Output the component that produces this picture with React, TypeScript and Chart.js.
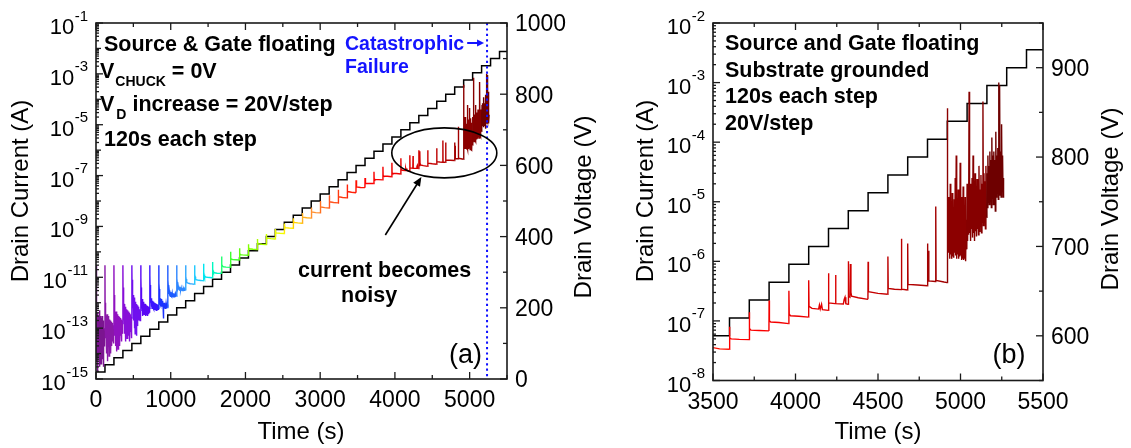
import React, { useEffect, useRef } from 'react';
import { Chart, registerables } from 'chart.js';

Chart.register(...registerables);

// ---------------- DATA ----------------
const STEP_SECONDS = 120;

// Drain voltage staircase: time (s) where each level starts, level (V)
const voltageTime = [0, 120, 240, 360, 480, 600, 720, 840, 960, 1080, 1200, 1320, 1440, 1560, 1680, 1800, 1920, 2040, 2160, 2280, 2400, 2520, 2640, 2760, 2880, 3000, 3120, 3240, 3360, 3480, 3600, 3720, 3840, 3960, 4080, 4200, 4320, 4440, 4560, 4680, 4800, 4920, 5040, 5160, 5280, 5400, 5500];
const voltageLevel = [20, 40, 60, 80, 100, 120, 140, 160, 180, 200, 220, 240, 260, 280, 300, 320, 340, 360, 380, 400, 420, 440, 460, 480, 500, 520, 540, 560, 580, 600, 620, 640, 660, 680, 700, 720, 740, 760, 780, 800, 820, 840, 860, 880, 900, 920, 920];

// Drain current, [time (s), current (A)]
// steps 0-4: noisy leakage at the floor
const earlyNoise: [number, number][] = [
  [0, 3e-11], [1, 2e-12], [4, 4e-13], [7, 2e-14], [10, 3e-13], [13, 5e-15], [16, 1.5e-13], [19, 3e-14], [22, 4e-13], [25, 2e-15], [28, 2e-13], [31, 6e-14], [34, 3e-13], [37, 1e-14], [40, 1.2e-13], [43, 4e-14], [46, 5e-13], [49, 3e-15], [52, 2e-13], [55, 8e-14], [58, 3e-13], [61, 1.5e-14], [64, 1e-13], [67, 4e-15], [70, 2.5e-13], [73, 5e-14], [76, 1.8e-13], [79, 2e-14], [82, 3e-13], [85, 6e-15], [88, 1.2e-13], [91, 3e-14], [94, 2e-13], [97, 1e-14], [100, 1.5e-13], [103, 3e-15], [106, 8e-14], [109, 2e-14], [112, 1e-13], [115, 5e-14], [118, 8e-14],
  [120, 3e-11], [122, 1e-12], [125, 3e-13], [128, 4e-14], [131, 4e-13], [134, 8e-14], [137, 3e-13], [140, 1e-14], [143, 2.5e-13], [146, 6e-14], [149, 3.5e-13], [152, 5e-15], [155, 2e-13], [158, 9e-14], [161, 3e-13], [164, 2e-14], [167, 1.8e-13], [170, 7e-14], [173, 2.5e-13], [176, 8e-15], [179, 1.5e-13], [182, 5e-14], [185, 2.2e-13], [188, 3e-14], [191, 1.2e-13], [194, 6e-14], [197, 2e-13], [200, 1e-14], [203, 1.4e-13], [206, 4e-14], [209, 1.8e-13], [212, 2e-14], [215, 1e-13], [218, 7e-14], [221, 1.6e-13], [224, 3e-14], [227, 1.1e-13], [230, 5e-14], [233, 1.3e-13], [236, 2.5e-14], [239, 9e-14],
  [240, 3e-11], [242, 2e-12], [245, 6e-13], [248, 5e-14], [251, 5e-13], [254, 1.5e-13], [257, 4e-13], [260, 2e-14], [263, 3.5e-13], [266, 1e-13], [269, 4.5e-13], [272, 1.2e-14], [275, 3e-13], [278, 1.2e-13], [281, 4e-13], [284, 3e-14], [287, 2.8e-13], [290, 9e-14], [293, 3.5e-13], [296, 1.5e-14], [299, 2.5e-13], [302, 8e-14], [305, 3e-13], [308, 4e-14], [311, 2e-13], [314, 1e-13], [317, 2.8e-13], [320, 2e-14], [323, 2.2e-13], [326, 7e-14], [329, 2.5e-13], [332, 5e-14], [335, 1.8e-13], [338, 1.1e-13], [341, 2.2e-13], [344, 3e-14], [347, 1.6e-13], [350, 8e-14], [353, 2e-13], [356, 6e-14], [359, 1.5e-13],
  [360, 3e-11], [362, 4e-12], [365, 1.2e-12], [368, 2e-13], [371, 1e-12], [374, 3e-13], [377, 9e-13], [380, 6e-14], [383, 8e-13], [386, 2.5e-13], [389, 7e-13], [392, 3e-14], [395, 6e-13], [398, 2e-13], [401, 6.5e-13], [404, 8e-14], [407, 5e-13], [410, 1.8e-13], [413, 5.5e-13], [416, 4e-14], [419, 4.5e-13], [422, 2e-13], [425, 5e-13], [428, 1e-13], [431, 4e-13], [434, 1.5e-13], [437, 4.5e-13], [440, 5e-14], [443, 3.5e-13], [446, 1.6e-13], [449, 4e-13], [452, 3e-14], [455, 3e-13], [458, 1.2e-13], [461, 3.5e-13], [464, 7e-14], [467, 3e-13], [470, 1.4e-13], [473, 2.8e-13], [476, 4e-14], [479, 2.5e-13],
  [480, 3e-11], [482, 8e-12], [485, 3e-12], [488, 6e-13], [491, 2.5e-12], [494, 8e-13], [497, 2e-12], [500, 2e-13], [503, 1.8e-12], [506, 6e-13], [509, 1.6e-12], [512, 1e-13], [515, 1.4e-12], [518, 5e-13], [521, 1.2e-12], [524, 6e-14], [527, 1.1e-12], [530, 4e-13], [533, 1e-12], [536, 1.5e-13], [539, 9e-13], [542, 5e-14], [545, 8e-13], [548, 3e-13], [551, 8e-13], [554, 1.2e-13], [557, 7e-13], [560, 3e-13], [563, 7e-13], [566, 2e-13], [569, 6e-13], [572, 3e-13], [575, 6e-13], [578, 2.5e-13], [581, 5.5e-13], [584, 3e-13], [587, 5.5e-13], [590, 2e-13], [593, 5e-13], [596, 3e-13], [599, 5e-13],
];

// steps 5-16: spike at each step then decay
const decaySteps: [number, number][] = [
  [600, 3e-11], [601, 1e-11], [603, 4e-12], [606, 2.2e-12], [609, 1.5e-12], [612, 6e-13], [616, 1.4e-12], [620, 4e-13], [624, 1.2e-12], [628, 3e-13], [632, 1.1e-12], [636, 5e-13], [640, 1e-12], [644, 3.5e-13], [648, 9e-13], [652, 4e-13], [656, 9e-13], [660, 3e-13], [664, 8e-13], [668, 4e-13], [672, 8e-13], [676, 3.2e-13], [680, 7e-13], [684, 4e-13], [688, 7.5e-13], [692, 3e-13], [696, 7e-13], [700, 4e-13], [704, 6.5e-13], [708, 3.5e-13], [712, 6.5e-13], [716, 4e-13], [719, 6e-13],
  [720, 3e-11], [721, 1.2e-11], [723, 5e-12], [726, 2.8e-12], [730, 1.8e-12], [734, 1e-12], [738, 1.5e-12], [742, 7e-13], [746, 1.3e-12], [750, 6e-13], [754, 1.2e-12], [758, 7e-13], [762, 1.1e-12], [766, 6e-13], [770, 1.1e-12], [774, 5.5e-13], [778, 1e-12], [782, 6e-13], [786, 1e-12], [790, 5.5e-13], [794, 9e-13], [798, 6e-13], [802, 9.5e-13], [806, 5e-13], [810, 9e-13], [814, 5.5e-13], [818, 8.5e-13], [822, 5e-13], [826, 8.5e-13], [830, 5.5e-13], [834, 8e-13], [839, 6e-13],
  [840, 3e-11], [841, 1.3e-11], [843, 6e-12], [846, 3.5e-12], [850, 2.2e-12], [854, 1.6e-12], [858, 9e-13], [862, 1.5e-12], [866, 8e-13], [870, 1.4e-12], [874, 7.5e-13], [878, 1.3e-12], [882, 7e-13], [886, 1.2e-12], [890, 7e-13], [894, 1.1e-12], [898, 7e-13], [902, 1e-12], [904, 2.4e-13], [906, 9e-13], [910, 6.5e-13], [914, 1e-12], [918, 6.5e-13], [922, 9.5e-13], [926, 6e-13], [930, 9e-13], [934, 6e-13], [938, 9e-13], [942, 6e-13], [946, 8.5e-13], [950, 6e-13], [954, 8.5e-13], [959, 6.5e-13],
  [960, 3e-11], [961, 1.5e-11], [963, 8e-12], [966, 5e-12], [970, 3.6e-12], [975, 2.2e-12], [980, 3e-12], [985, 1.9e-12], [990, 2.8e-12], [995, 1.8e-12], [1000, 2.6e-12], [1005, 1.8e-12], [1010, 2.5e-12], [1015, 1.7e-12], [1020, 2.4e-12], [1025, 1.7e-12], [1030, 2.4e-12], [1035, 1.7e-12], [1040, 2.3e-12], [1045, 1.7e-12], [1050, 2.3e-12], [1055, 1.7e-12], [1060, 2.2e-12], [1065, 1.7e-12], [1070, 2.2e-12], [1079, 1.8e-12],
  [1080, 3e-11], [1081, 1.6e-11], [1083, 9e-12], [1086, 6.5e-12], [1090, 5e-12], [1095, 3.6e-12], [1100, 4.6e-12], [1105, 3.3e-12], [1110, 4.3e-12], [1115, 3.2e-12], [1120, 4.1e-12], [1125, 3.1e-12], [1130, 4e-12], [1135, 3.1e-12], [1140, 3.9e-12], [1145, 3e-12], [1150, 3.8e-12], [1155, 3e-12], [1160, 3.7e-12], [1165, 3e-12], [1170, 3.7e-12], [1180, 3.1e-12], [1190, 3.5e-12], [1199, 3.2e-12],
  [1200, 3e-11], [1201, 1.7e-11], [1203, 1.1e-11], [1206, 8.5e-12], [1210, 7e-12], [1216, 6.3e-12], [1225, 6e-12], [1240, 5.8e-12], [1260, 5.6e-12], [1280, 5.5e-12], [1300, 5.4e-12], [1319, 5.3e-12],
  [1320, 3e-11], [1321, 1.9e-11], [1323, 1.3e-11], [1326, 1.05e-11], [1330, 9e-12], [1336, 8.3e-12], [1345, 8e-12], [1360, 7.8e-12], [1380, 7.6e-12], [1400, 7.5e-12], [1420, 7.4e-12], [1439, 7.3e-12],
  [1440, 3.4e-11], [1441, 2.2e-11], [1443, 1.6e-11], [1446, 1.3e-11], [1450, 1.15e-11], [1456, 1.07e-11], [1470, 1.03e-11], [1490, 1e-11], [1520, 9.8e-12], [1559, 9.6e-12],
  [1560, 4e-11], [1561, 2.8e-11], [1563, 2.1e-11], [1566, 1.8e-11], [1572, 1.6e-11], [1585, 1.5e-11], [1620, 1.45e-11], [1679, 1.42e-11],
  [1680, 6.5e-11], [1682, 4e-11], [1686, 3.2e-11], [1692, 2.8e-11], [1705, 2.6e-11], [1740, 2.5e-11], [1799, 2.45e-11],
  [1800, 1e-10], [1802, 6.5e-11], [1806, 5.6e-11], [1812, 5.2e-11], [1830, 5e-11], [1870, 4.9e-11], [1919, 4.8e-11],
  [1920, 1.4e-10], [1922, 9.5e-11], [1926, 8.3e-11], [1935, 7.8e-11], [1960, 7.6e-11], [2039, 7.4e-11],
];

// steps 17-40: small spike at each step, slowly rising level
const rampSteps: [number, number][] = [
  [2040, 2e-10], [2043, 1.5e-10], [2050, 1.32e-10], [2100, 1.26e-10], [2159, 1.22e-10],
  [2160, 3.2e-10], [2163, 2.4e-10], [2170, 2.1e-10], [2220, 2e-10], [2279, 1.95e-10],
  [2280, 5e-10], [2283, 3.9e-10], [2290, 3.45e-10], [2340, 3.3e-10], [2399, 3.2e-10],
  [2400, 8e-10], [2403, 6.4e-10], [2410, 5.6e-10], [2460, 5.4e-10], [2519, 5.25e-10],
  [2520, 1.3e-9], [2523, 1.05e-9], [2530, 9e-10], [2580, 8.7e-10], [2639, 8.5e-10],
  [2640, 2.1e-9], [2643, 1.65e-9], [2650, 1.45e-9], [2700, 1.38e-9], [2759, 1.34e-9],
  [2760, 3.4e-9], [2763, 2.7e-9], [2770, 2.3e-9], [2820, 2.2e-9], [2879, 2.13e-9],
  [2880, 5.6e-9], [2883, 4.3e-9], [2890, 3.7e-9], [2940, 3.5e-9], [2999, 3.4e-9],
  [3000, 1e-8], [3003, 7e-9], [3010, 5.9e-9], [3060, 5.5e-9], [3119, 5.3e-9],
  [3120, 1.7e-8], [3123, 1.15e-8], [3130, 9.3e-9], [3180, 8.7e-9], [3239, 8.4e-9],
  [3240, 2.8e-8], [3243, 1.8e-8], [3250, 1.47e-8], [3300, 1.38e-8], [3359, 1.33e-8],
  [3360, 4.5e-8], [3363, 2.9e-8], [3370, 2.35e-8], [3420, 2.2e-8], [3479, 2.12e-8],
  [3480, 6.5e-8], [3483, 4.2e-8], [3490, 3.6e-8], [3540, 3.4e-8], [3599, 3.35e-8],
  [3600, 8e-8], [3602, 5.2e-8], [3610, 5e-8], [3660, 4.9e-8], [3719, 4.85e-8],
  [3720, 1.4e-7], [3722, 7.5e-8], [3730, 7e-8], [3780, 6.9e-8], [3839, 6.8e-8],
  [3840, 2.2e-7], [3842, 1e-7], [3850, 9.6e-8], [3900, 9.4e-8], [3959, 9e-8],
  [3960, 3.2e-7], [3962, 1.3e-7], [3970, 1.22e-7], [4020, 1.2e-7], [4079, 1.16e-7],
  [4080, 4.8e-7], [4082, 1.75e-7], [4100, 1.62e-7], [4140, 1.58e-7], [4145, 1.85e-7], [4150, 1.58e-7], [4158, 1.9e-7], [4163, 1.55e-7], [4199, 1.5e-7],
  [4200, 6.3e-7], [4202, 2e-7], [4240, 1.95e-7], [4243, 5.9e-7], [4245, 1.95e-7], [4290, 1.92e-7], [4295, 2.3e-7], [4300, 2.5e-7], [4305, 1.95e-7], [4319, 1.9e-7],
  [4320, 1e-6], [4322, 2.6e-7], [4330, 2.5e-7], [4333, 9e-7], [4336, 3e-7], [4340, 2.6e-7], [4380, 2.45e-7], [4439, 2.3e-7],
  [4440, 9.8e-7], [4442, 3.1e-7], [4500, 2.9e-7], [4559, 2.8e-7],
  [4560, 1.2e-6], [4562, 3.5e-7], [4600, 3.4e-7], [4640, 3.35e-7], [4642, 2.4e-6], [4644, 3.4e-7], [4679, 3.3e-7],
  [4680, 2e-6], [4682, 4.1e-7], [4740, 4e-7], [4799, 3.9e-7],
  [4800, 2e-6], [4802, 4.7e-7], [4806, 1.5e-6], [4808, 4.7e-7], [4848, 4.6e-7], [4850, 8.3e-6], [4852, 4.8e-7], [4900, 4.5e-7], [4919, 4.4e-7],
];

// steps 41-43: current becomes noisy until catastrophic failure
const breakdownNoise: [number, number][] = [
  [4920, 1.2e-6], [4921, 3.7e-4], [4923, 1.3e-6], [4926, 1.2e-5], [4929, 1.4e-6], [4932, 8e-6], [4935, 1.1e-6], [4938, 2e-5], [4941, 1.3e-6], [4944, 5e-6], [4947, 1.1e-6], [4950, 1.4e-5], [4953, 1.2e-6], [4956, 7e-6], [4959, 1.15e-6], [4962, 1.1e-5], [4965, 1.4e-6], [4968, 2.5e-5], [4971, 1.25e-6], [4974, 6e-5], [4977, 1.1e-6], [4980, 1e-5], [4983, 1.3e-6], [4986, 1.6e-5], [4989, 1.1e-6], [4992, 6e-6], [4995, 1.2e-6], [4998, 4.5e-5], [5001, 1.25e-6], [5004, 1.2e-5], [5007, 1.05e-6], [5010, 8e-6], [5013, 1.1e-6], [5016, 1.8e-5], [5019, 1.05e-6], [5022, 6e-6], [5025, 1.1e-6], [5028, 1.2e-5], [5031, 1e-6], [5034, 5e-6], [5037, 1.6e-6],
  [5040, 2e-5], [5043, 2.2e-6], [5046, 1.5e-5], [5049, 2.8e-6], [5052, 7e-4], [5055, 3e-6], [5058, 2e-5], [5061, 2.2e-6], [5064, 1.4e-5], [5067, 3.5e-6], [5070, 2.5e-5], [5073, 2.5e-6], [5076, 6e-5], [5079, 3e-6], [5082, 1.8e-5], [5085, 2.2e-6], [5088, 3e-5], [5091, 3.2e-6], [5094, 1.5e-5], [5097, 2.6e-6], [5100, 2.4e-5], [5103, 3.5e-6], [5106, 1.2e-5], [5109, 2.8e-6], [5112, 4e-5], [5115, 3.2e-6], [5118, 1.6e-5], [5121, 4e-6], [5124, 2.8e-5], [5127, 3e-6], [5130, 2e-5], [5133, 4.5e-6], [5136, 4.8e-4], [5139, 4e-6], [5142, 3e-5], [5145, 5e-6], [5148, 2.2e-5], [5151, 3.5e-6], [5154, 4e-5], [5157, 5.5e-6],
  [5160, 3e-5], [5163, 8e-6], [5166, 6e-5], [5169, 1e-5], [5172, 4e-5], [5175, 9e-6], [5178, 7e-5], [5181, 1.1e-5], [5184, 5e-5], [5187, 8e-6], [5190, 1.2e-4], [5193, 1.2e-5], [5196, 6e-5], [5199, 9e-6], [5202, 7e-5], [5205, 1.3e-5], [5208, 5e-5], [5211, 7e-6], [5214, 1.5e-4], [5217, 1.2e-5], [5220, 6e-5], [5223, 1.4e-5], [5226, 8e-5], [5229, 1.1e-5], [5232, 1e-3], [5234, 1.5e-5], [5237, 9e-4], [5240, 1.3e-5], [5243, 7e-5], [5246, 1.2e-5], [5249, 2e-4], [5252, 1.5e-5], [5255, 6e-5], [5258, 1.2e-5], [5261, 2.5e-5],
];

// one colour per 120 s step (rainbow → dark red)
const stepColors = [
  '#7b1590', '#8a18a8', '#9012c0', '#8810d8', '#7010ee', '#5a08f4', '#3a14ff', '#1a32ff', '#1e5cff', '#2e86ff',
  '#30a8ff', '#1ecaff', '#00e6f0', '#00f8c0', '#20ff70', '#40ff30', '#5cff10', '#80ff00', '#a8ff00', '#ccff00',
  '#eeff00', '#ffee00', '#ffd000', '#ffb020', '#ff9030', '#ff7020', '#ff5520', '#ff3a10', '#ff2008', '#ff1000',
  '#ff0000', '#fa0000', '#f40000', '#ee0000', '#e40000', '#da0000', '#d00000', '#c60000', '#bc0000', '#b00000',
  '#a20000', '#8c0000', '#860000', '#6e0000',
];

const failureTime = 5233; // catastrophic failure marker (s)

// tick labels
const timeLabelsA = [0, 1000, 2000, 3000, 4000, 5000];
const timeLabelsB = [3500, 4000, 4500, 5000, 5500];
const currentExpLabelsA = [-15, -13, -11, -9, -7, -5, -3, -1];
const currentExpLabelsB = [-8, -7, -6, -5, -4, -3, -2];
const voltageLabelsA = [0, 200, 400, 600, 800, 1000];
const voltageLabelsB = [600, 700, 800, 900];

// ---------------- STYLE / LAYOUT ----------------
const FONT = '"Liberation Sans", Arial, Helvetica, sans-serif';
const AXIS = '#1a1a1a';
const W = 1131;
const H = 448;

type Cfg = {
  name: 'a' | 'b';
  area: { left: number; right: number; top: number; bottom: number };
  xMin: number; xMax: number; xMinor: number; xLabels: number[];
  yMinExp: number; yMaxExp: number; yLabels: number[];
  vMin: number; vMax: number; vMinor: number; vLabels: number[];
  leftTitle: [number, number]; rightTitle: [number, number]; xTitle: [number, number];
  tag: [string, number, number];
};

const cfgA: Cfg = {
  name: 'a',
  area: { left: 96, right: 507, top: 23, bottom: 379 },
  xMin: 0, xMax: 5500, xMinor: 500, xLabels: timeLabelsA,
  yMinExp: -15, yMaxExp: -1, yLabels: currentExpLabelsA,
  vMin: 0, vMax: 1000, vMinor: 100, vLabels: voltageLabelsA,
  leftTitle: [21, 191], rightTitle: [584, 207], xTitle: [301, 432],
  tag: ['(a)', 465.5, 363],
};

const cfgB: Cfg = {
  name: 'b',
  area: { left: 713, right: 1043, top: 23, bottom: 380.5 },
  xMin: 3500, xMax: 5500, xMinor: 250, xLabels: timeLabelsB,
  yMinExp: -8, yMaxExp: -2, yLabels: currentExpLabelsB,
  vMin: 550, vMax: 950, vMinor: 50, vLabels: voltageLabelsB,
  leftTitle: [646, 191], rightTitle: [1111, 199], xTitle: [878, 432],
  tag: ['(b)', 1009, 363],
};

function setFont(ctx: CanvasRenderingContext2D, size: number, bold = false) {
  ctx.font = `${bold ? 'bold ' : ''}${size}px ${FONT}`;
}

function txt(ctx: CanvasRenderingContext2D, s: string, x: number, y: number, size: number, bold = false, color = '#000', align: CanvasTextAlign = 'left') {
  setFont(ctx, size, bold);
  ctx.fillStyle = color;
  ctx.textAlign = align;
  ctx.textBaseline = 'alphabetic';
  ctx.fillText(s, x, y);
  return ctx.measureText(s).width;
}

function seg(ctx: CanvasRenderingContext2D, x1: number, y1: number, x2: number, y2: number) {
  ctx.beginPath();
  ctx.moveTo(x1, y1);
  ctx.lineTo(x2, y2);
  ctx.stroke();
}

function arrowHead(ctx: CanvasRenderingContext2D, x1: number, y1: number, x2: number, y2: number, len: number, half: number, color: string) {
  const a = Math.atan2(y2 - y1, x2 - x1);
  ctx.fillStyle = color;
  ctx.beginPath();
  ctx.moveTo(x2, y2);
  ctx.lineTo(x2 - len * Math.cos(a) + half * Math.sin(a), y2 - len * Math.sin(a) - half * Math.cos(a));
  ctx.lineTo(x2 - len * Math.cos(a) - half * Math.sin(a), y2 - len * Math.sin(a) + half * Math.cos(a));
  ctx.closePath();
  ctx.fill();
}

function vTitle(ctx: CanvasRenderingContext2D, s: string, x: number, y: number) {
  ctx.save();
  ctx.translate(x, y);
  ctx.rotate(-Math.PI / 2);
  setFont(ctx, 24);
  ctx.fillStyle = '#000';
  ctx.textAlign = 'center';
  ctx.textBaseline = 'middle';
  ctx.fillText(s, 0, 0);
  ctx.restore();
}

function makeDecor(cfg: Cfg) {
  return {
    id: 'decor_' + cfg.name,
    afterDatasetsDraw(chart: any) {
      const ctx: CanvasRenderingContext2D = chart.ctx;
      const { left, right, top, bottom } = chart.chartArea;
      const xs = chart.scales.x;
      const ys = chart.scales.y;
      const vs = chart.scales.y2;
      ctx.save();

      // catastrophic failure marker (panel a)
      if (cfg.name === 'a') {
        const fx = xs.getPixelForValue(failureTime);
        ctx.strokeStyle = '#1010ff';
        ctx.lineWidth = 2;
        ctx.setLineDash([2.2, 3.2]);
        seg(ctx, fx, top, fx, bottom);
        ctx.setLineDash([]);
      }

      // frame
      ctx.strokeStyle = AXIS;
      ctx.lineWidth = 1.6;
      ctx.strokeRect(left, top, right - left, bottom - top);
      ctx.lineWidth = 1.3;

      // time ticks (bottom and top, inward)
      for (let t = cfg.xMin; t <= cfg.xMax + 1e-6; t += cfg.xMinor) {
        const px = xs.getPixelForValue(t);
        const major = cfg.xLabels.includes(t);
        const len = major ? 7 : 4;
        seg(ctx, px, bottom, px, bottom - len);
        seg(ctx, px, top, px, top + len);
        if (major) txt(ctx, String(t), px, bottom + 28, 23, false, '#000', 'center');
      }

      // log current ticks (left, inward)
      for (let e = cfg.yMinExp; e <= cfg.yMaxExp; e++) {
        const py = ys.getPixelForValue(Math.pow(10, e));
        const labeled = cfg.yLabels.includes(e);
        seg(ctx, left, py, left + (labeled ? 7 : 5), py);
        if (labeled) {
          const xr = left - 8;
          const es = String(e);
          const ew = txt(ctx, es, xr, py - 2.5, 15, false, '#000', 'right');
          txt(ctx, '10', xr - ew - 0.5, py + 11, 22, false, '#000', 'right');
        }
        if (e < cfg.yMaxExp) {
          for (let m = 2; m <= 9; m++) {
            const my = ys.getPixelForValue(m * Math.pow(10, e));
            seg(ctx, left, my, left + 3, my);
          }
        }
      }

      // voltage ticks (right, inward)
      for (let v = cfg.vMin; v <= cfg.vMax + 1e-6; v += cfg.vMinor) {
        const py = vs.getPixelForValue(v);
        const major = cfg.vLabels.includes(v);
        seg(ctx, right, py, right - (major ? 7 : 4), py);
        if (major) txt(ctx, String(v), right + 8, py + 8.3, 23);
      }

      // axis titles
      vTitle(ctx, 'Drain Current (A)', cfg.leftTitle[0], cfg.leftTitle[1]);
      vTitle(ctx, 'Drain Voltage (V)', cfg.rightTitle[0], cfg.rightTitle[1]);
      setFont(ctx, 24);
      ctx.fillStyle = '#000';
      ctx.textAlign = 'center';
      ctx.textBaseline = 'middle';
      ctx.fillText('Time (s)', cfg.xTitle[0], cfg.xTitle[1]);

      // panel tag
      txt(ctx, cfg.tag[0], cfg.tag[1], cfg.tag[2], 27, false, '#000', 'center');

      if (cfg.name === 'a') {
        const B = 21.5;
        txt(ctx, 'Source & Gate floating', 104, 50.5, B, true);
        let w = txt(ctx, 'V', 100, 78.3, B, true);
        let w2 = txt(ctx, 'CHUCK', 100 + w + 1, 85.5, 14, true);
        txt(ctx, ' = 0V', 100 + w + 1 + w2, 78.3, B, true);
        w = txt(ctx, 'V', 100, 110.5, B, true);
        w2 = txt(ctx, 'D', 100 + w + 2, 118.5, 14, true);
        txt(ctx, ' increase = 20V/step', 100 + w + 2 + w2, 110.5, B, true);
        txt(ctx, '120s each step', 104, 146, B, true);

        const blue = '#1414ff';
        const cw = txt(ctx, 'Catastrophic', 345, 50, 19.5, true, blue);
        txt(ctx, 'Failure', 345, 73, 19.5, true, blue);
        const fx = xs.getPixelForValue(failureTime);
        ctx.strokeStyle = blue;
        ctx.lineWidth = 2;
        const ax1 = 345 + cw + 3;
        const ax2 = fx - 3;
        seg(ctx, ax1, 43, ax2 - 4, 43);
        arrowHead(ctx, ax1, 43, ax2, 43, 7, 3.5, blue);

        // ellipse around noisy region
        const ex = xs.getPixelForValue(4661);
        const ey = ys.getPixelForValue(7.8e-7);
        ctx.strokeStyle = '#000';
        ctx.lineWidth = 1.6;
        ctx.beginPath();
        ctx.ellipse(ex, ey, 52.5, 25, 0, 0, Math.PI * 2);
        ctx.stroke();

        // arrow pointing to ellipse
        const p1x = xs.getPixelForValue(3872);
        const p1y = ys.getPixelForValue(4.6e-10);
        const p2x = xs.getPixelForValue(4354);
        const p2y = ys.getPixelForValue(8.7e-8);
        ctx.lineWidth = 1.6;
        const ang = Math.atan2(p2y - p1y, p2x - p1x);
        seg(ctx, p1x, p1y, p2x - 6 * Math.cos(ang), p2y - 6 * Math.sin(ang));
        arrowHead(ctx, p1x, p1y, p2x, p2y, 9, 4, '#000');

        txt(ctx, 'current becomes', 298, 276.5, B, true);
        txt(ctx, 'noisy', 341, 301.5, B, true);
      } else {
        const B = 21.5;
        txt(ctx, 'Source and Gate floating', 725, 49.5, B, true);
        txt(ctx, 'Substrate grounded', 725, 76.7, B, true);
        txt(ctx, '120s each step', 725, 103.3, B, true);
        txt(ctx, '20V/step', 725, 130, B, true);
      }
      ctx.restore();
    },
  };
}

const currentPoints = [...earlyNoise, ...decaySteps, ...rampSteps, ...breakdownNoise].map(([x, y]) => ({ x, y }));
const voltagePoints = voltageTime.map((x, i) => ({ x, y: voltageLevel[i] }));

function stepColor(t: number) {
  const k = Math.max(0, Math.min(stepColors.length - 1, Math.floor(t / STEP_SECONDS)));
  return stepColors[k];
}

function Panel({ cfg }: { cfg: Cfg }) {
  const ref = useRef<HTMLCanvasElement>(null);
  useEffect(() => {
    const chart = new Chart(ref.current as HTMLCanvasElement, {
      type: 'line',
      data: {
        datasets: [
          {
            data: currentPoints,
            yAxisID: 'y',
            borderWidth: 1.4,
            borderColor: stepColors[0],
            pointRadius: 0,
            tension: 0,
            segment: {
              borderColor: (c: any) => stepColor(c.p1.parsed.x),
            },
          } as any,
          {
            data: voltagePoints,
            yAxisID: 'y2',
            borderWidth: 1.5,
            borderColor: '#000',
            pointRadius: 0,
            stepped: 'before',
          } as any,
        ],
      },
      options: {
        responsive: false,
        animation: false,
        devicePixelRatio: 1,
        events: [],
        layout: {
          padding: {
            left: cfg.area.left,
            right: W - cfg.area.right,
            top: cfg.area.top,
            bottom: H - cfg.area.bottom,
          },
        },
        plugins: { legend: { display: false }, tooltip: { enabled: false } },
        scales: {
          x: { type: 'linear', min: cfg.xMin, max: cfg.xMax, display: false },
          y: { type: 'logarithmic', min: Math.pow(10, cfg.yMinExp), max: Math.pow(10, cfg.yMaxExp), display: false },
          y2: { type: 'linear', min: cfg.vMin, max: cfg.vMax, display: false, position: 'right' },
        },
      } as any,
      plugins: [makeDecor(cfg)],
    });
    return () => chart.destroy();
  }, [cfg]);
  return <canvas ref={ref} width={W} height={H} style={{ position: 'absolute', left: 0, top: 0 }} />;
}

export default function App() {
  return (
    <div style={{ position: 'absolute', left: 0, top: 0, width: W, height: H, background: '#fff' }}>
      <Panel cfg={cfgA} />
      <Panel cfg={cfgB} />
    </div>
  );
}
